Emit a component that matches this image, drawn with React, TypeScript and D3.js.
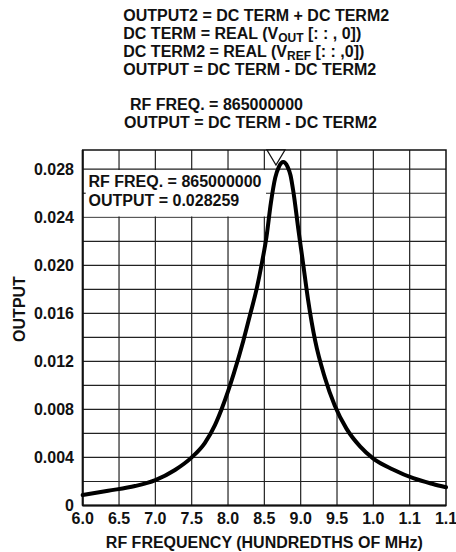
import React from "react";
import * as d3 from "d3";

const freqMHz = [600, 635, 672, 700, 727, 750, 768, 782, 791, 800, 808, 821, 830, 840, 846, 853, 859, 865, 870, 876, 882, 886, 890, 897, 903, 910, 920, 933, 947, 963, 982, 1000, 1027, 1055, 1082, 1100];
const output = [0.00087, 0.00123, 0.00162, 0.00212, 0.00296, 0.00401, 0.0052, 0.0067, 0.008, 0.0095, 0.011, 0.0137, 0.0158, 0.0182, 0.02, 0.0224, 0.0252, 0.0273, 0.0282, 0.0286, 0.0282, 0.0275, 0.0261, 0.0229, 0.0203, 0.0172, 0.0137, 0.0107, 0.0083, 0.0064, 0.0049, 0.0039, 0.003, 0.00227, 0.00179, 0.00152];

const xTickValues = [600, 650, 700, 750, 800, 850, 900, 950, 1000, 1050, 1100];
const xTickLabels = ["6.0", "6.5", "7.0", "7.5", "8.0", "8.5", "9.0", "9.5", "1.0", "1.1", "1.1"];
const yTickValues = [0, 0.004, 0.008, 0.012, 0.016, 0.02, 0.024, 0.028];
const yTickLabels = ["0", "0.004", "0.008", "0.012", "0.016", "0.020", "0.024", "0.028"];
const yGridValues = [0.002, 0.004, 0.006, 0.008, 0.01, 0.012, 0.014, 0.016, 0.018, 0.02, 0.022, 0.024, 0.026, 0.028];

const markerFreq = 866;

const W = 456, H = 552;
const L = 82.7, R = 446, T = 150, B = 505.5;
const FONT = "'Liberation Sans', Arial, Helvetica, sans-serif";

export default function App() {
  const x = d3.scaleLinear().domain([600, 1100]).range([L, R]);
  const y = d3.scaleLinear().domain([0, 0.0296]).range([B, T]);
  const line = d3.line<number>().x((_, i) => x(freqMHz[i])).y((d) => y(d)).curve(d3.curveMonotoneX);
  const mx = x(markerFreq);
  const fs = 16;
  const textStyle = { fontFamily: FONT, fontWeight: 700, fontSize: fs, fill: "#111" } as const;
  return (
    <svg width={W} height={H} style={{ position: "absolute", left: 0, top: 0, background: "#fff" }}>
      <rect x={0} y={0} width={W} height={H} fill="#fff" />
      <g style={textStyle}>
        <text x={123.3} y={20.7}>OUTPUT2 = DC TERM + DC TERM2</text>
        <text x={123.3} y={38.5}>DC TERM = REAL (V<tspan fontSize={12} dy={3}>OUT</tspan><tspan dy={-3}> [: : , 0])</tspan></text>
        <text x={123.3} y={56.5}>DC TERM2 = REAL (V<tspan fontSize={12} dy={3}>REF</tspan><tspan dy={-3}> [: : ,0])</tspan></text>
        <text x={123.3} y={75}>OUTPUT = DC TERM - DC TERM2</text>
        <text x={130} y={110}>RF FREQ. = 865000000</text>
        <text x={124} y={128.3}>OUTPUT = DC TERM - DC TERM2</text>
      </g>
      <g stroke="#222" strokeWidth={1.2}>
        {xTickValues.slice(1, -1).map((v) => (
          <line key={"vx" + v} x1={x(v)} x2={x(v)} y1={T} y2={B} />
        ))}
        {yGridValues.map((v) => (
          <line key={"hy" + v} x1={L} x2={R} y1={y(v)} y2={y(v)} />
        ))}
      </g>
      <rect x={L + 1} y={y(0.028) + 0.8} width={266 - L - 1} height={y(0.024) - y(0.028) - 1.6} fill="#fff" />
      <line x1={L} x2={L + 3} y1={y(0.026)} y2={y(0.026)} stroke="#222" strokeWidth={1.2} />
      <g style={textStyle}>
        <text x={88.5} y={187}>RF FREQ. = 865000000</text>
        <text x={88.5} y={205.5}>OUTPUT = 0.028259</text>
      </g>
      <rect x={L} y={T} width={R - L} height={B - T} fill="none" stroke="#111" strokeWidth={1.5} />
      <line x1={L} x2={L} y1={T} y2={B} stroke="#111" strokeWidth={2} />
      <line x1={L} x2={R} y1={B} y2={B} stroke="#111" strokeWidth={2} />
      <path d={line(output) || ""} fill="none" stroke="#000" strokeWidth={4} strokeLinejoin="round" strokeLinecap="round" />
      <path d={`M${mx - 9},${T}L${mx + 9},${T}L${mx},${T + 15}Z`} fill="#fff" stroke="#111" strokeWidth={1.3} />
      <g style={textStyle}>
        {yTickValues.map((v, i) => (
          <text key={"yl" + v} x={74} y={y(v)} textAnchor="end" dominantBaseline="central">{yTickLabels[i]}</text>
        ))}
        {xTickValues.map((v, i) => (
          <text key={"xl" + v} x={x(v)} y={524} textAnchor="middle">{xTickLabels[i]}</text>
        ))}
        <text x={(L + R) / 2} y={548} textAnchor="middle">RF FREQUENCY (HUNDREDTHS OF MHz)</text>
        <text transform={`translate(24.5,309) rotate(-90)`} textAnchor="middle">OUTPUT</text>
      </g>
    </svg>
  );
}
